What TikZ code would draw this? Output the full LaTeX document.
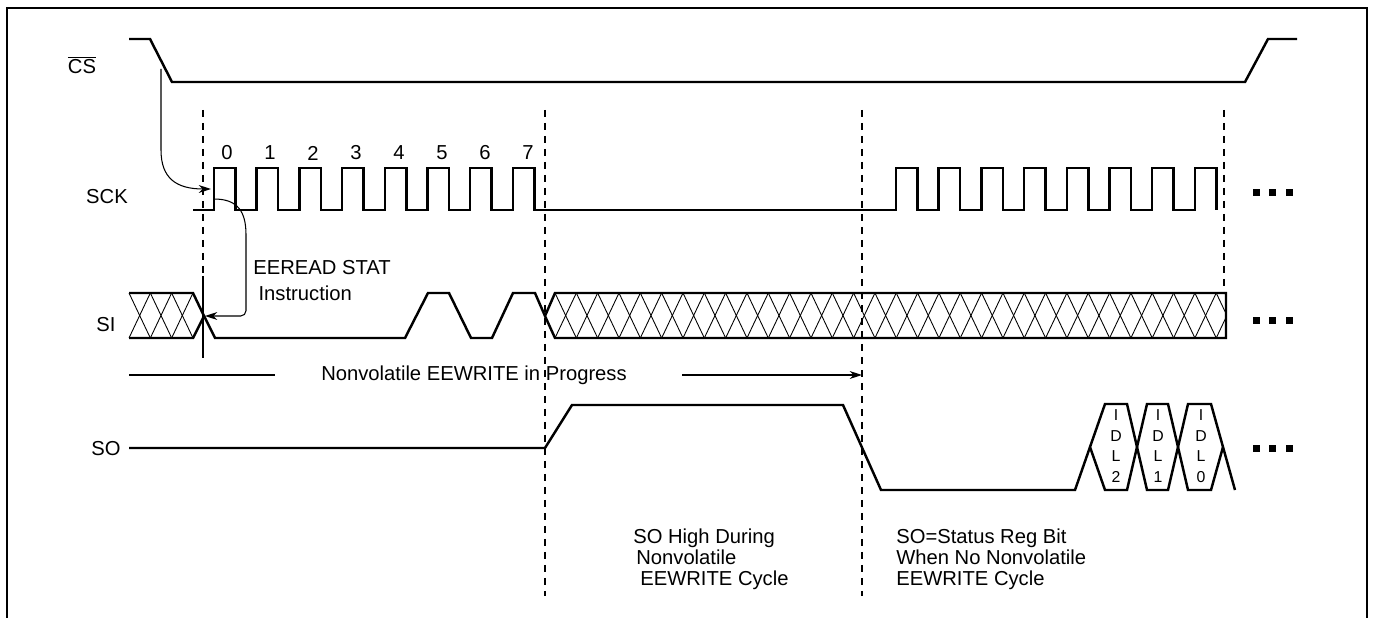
\documentclass[tikz,border=0pt]{standalone}
\usepackage{fontspec}
\setmainfont{Liberation Sans}
\usetikzlibrary{arrows,arrows.meta,positioning,calc}

\begin{document}
\begin{tikzpicture}[x=0.02cm,y=-0.02cm,>={Stealth[length=7pt,width=4.5pt]},
  sig/.style={line width=1.4pt,line join=miter},
  thinline/.style={line width=0.6pt},
  guide/.style={line width=0.6pt,dash pattern=on 0.15cm off 0.11cm},
  hatch/.style={line width=0.5pt},
  lbl/.style={font=\fontsize{11.5}{12}\selectfont,inner sep=0pt},
  bitlbl/.style={font=\fontsize{9}{11.7}\selectfont,align=center,inner sep=0pt}]
\useasboundingbox (0,0) rectangle (1373,618);
% frame
\draw[line width=1.1pt] (7,618) -- (7,8) -- (1367,8) -- (1367,618);

% signal names
\node[lbl] (cs) at (82,65) {$\overline{\hbox{CS}}$};
\node[lbl] (sck) at (107,197) {SCK};
\node[lbl] (si) at (106,325) {SI};
\node[lbl] (so) at (106,449) {SO};

% dashed time marks
\draw[guide] (203,110) -- (203,276);
\draw[thinline] (203,276) -- (203,358);
\draw[guide] (545,110) -- (545,596);
\draw[guide] (862,110) -- (862,596);
\draw[guide] (1224,110) -- (1224,293);

% CS
\draw[sig] (129,39) -- (150,39) -- (172,82) -- (1245,82) -- (1268,39) -- (1297,39);

% SCK
\draw[sig] (193,210)
  foreach \i in {0,...,7} {-- ({214+42.7*\i},210) -- ({214+42.7*\i},168) -- ({235.5+42.7*\i},168) -- ({235.5+42.7*\i},210)}
  -- (896,210)
  foreach \i in {0,...,7} {-- ({896+42.7*\i},210) -- ({896+42.7*\i},168) -- ({917.5+42.7*\i},168) -- ({917.5+42.7*\i},210)};
\foreach \i in {0,...,7}
  \node[lbl] (bit\i) at ({227+43*\i},153) {\i};

% SI
\foreach \k in {0,1,2} {
  \draw[hatch] ({129+21.33*\k},293) -- ({150.33+21.33*\k},338);
  \draw[hatch] ({129+21.33*\k},338) -- ({150.33+21.33*\k},293);
}
\begin{scope}
  \clip (555,293) rectangle (1226,338);
  \foreach \k in {0,...,31} {
    \draw[hatch] ({555+21.33*\k},293) -- ({576.33+21.33*\k},338);
    \draw[hatch] ({555+21.33*\k},338) -- ({576.33+21.33*\k},293);
  }
\end{scope}
\draw[sig] (129,293) -- (193,293) -- (204,316) -- (193,338) -- (129,338);
\draw[sig] (204,316) -- (215,338) -- (405,338) -- (428,293) -- (449,293) -- (471,338)
  -- (492,338) -- (513,293) -- (535,293) -- (545,316) -- (555,293) -- (1226,293)
  -- (1226,338) -- (555,338) -- (545,316);

% SO
\draw[sig] (129,448) -- (545,448) -- (572,405) -- (843,405) -- (881,490) -- (1075,490)
  -- (1105,404) -- (1127,404) -- (1137,447) -- (1147,404) -- (1168,404) -- (1178,447)
  -- (1188,404) -- (1211,404) -- (1235,490);
\draw[sig] (1090,447) -- (1105,490) -- (1127,490) -- (1137,447) -- (1147,490) -- (1168,490)
  -- (1178,447) -- (1188,490) -- (1211,490) -- (1223,447);
\node[bitlbl] (idl2) at (1116,446) {I\\D\\L\\2};
\node[bitlbl] (idl1) at (1158,446) {I\\D\\L\\1};
\node[bitlbl] (idl0) at (1201,446) {I\\D\\L\\0};

% continuation marks
\foreach \y in {193,321,448}
  \foreach \x in {1256,1272,1289}
    \fill (\x-3.5,\y-3.5) rectangle (\x+3.5,\y+3.5);

% CS falling edge starts the clock
\coordinate (csedge) at (161,69);
\coordinate (clk0) at (211,189);
\draw[thinline,->] (csedge) -- (161,150) .. controls (161,178) and (176,189) .. (clk0);

% first clock edge latches the instruction
\coordinate (clkedge) at (214,199);
\coordinate (sicross) at (205,316);
\draw[thinline,->,rounded corners=3pt] (clkedge) .. controls (238,199) and (246,212) .. (246,240)
  -- (246,316) -- (sicross);
\node[lbl,anchor=west,align=left,font=\fontsize{11.5}{14.8}\selectfont] (instr) at (253,281)
  {EEREAD STAT\\\hspace*{3pt}Instruction};

% write in progress
\node[lbl] (nvlabel) at (474,375) {Nonvolatile EEWRITE in Progress};
\coordinate (nvstart) at (129,375);
\coordinate (nvleft) at (275,375);
\coordinate (nvright) at (682,375);
\coordinate (nvend) at (862,375);
\draw[thinline] (nvstart) -- (nvleft);
\draw[thinline,->] (nvright) -- (nvend);

% notes
\node[lbl,anchor=west,align=left] (sohigh) at (633,559)
  {SO High During\\\hspace*{1.7pt}Nonvolatile\\\hspace*{4pt}EEWRITE Cycle};
\node[lbl,anchor=west,align=left] (sostat) at (896,559)
  {SO=Status Reg Bit\\When No Nonvolatile\\EEWRITE Cycle};
\end{tikzpicture}
\end{document}
